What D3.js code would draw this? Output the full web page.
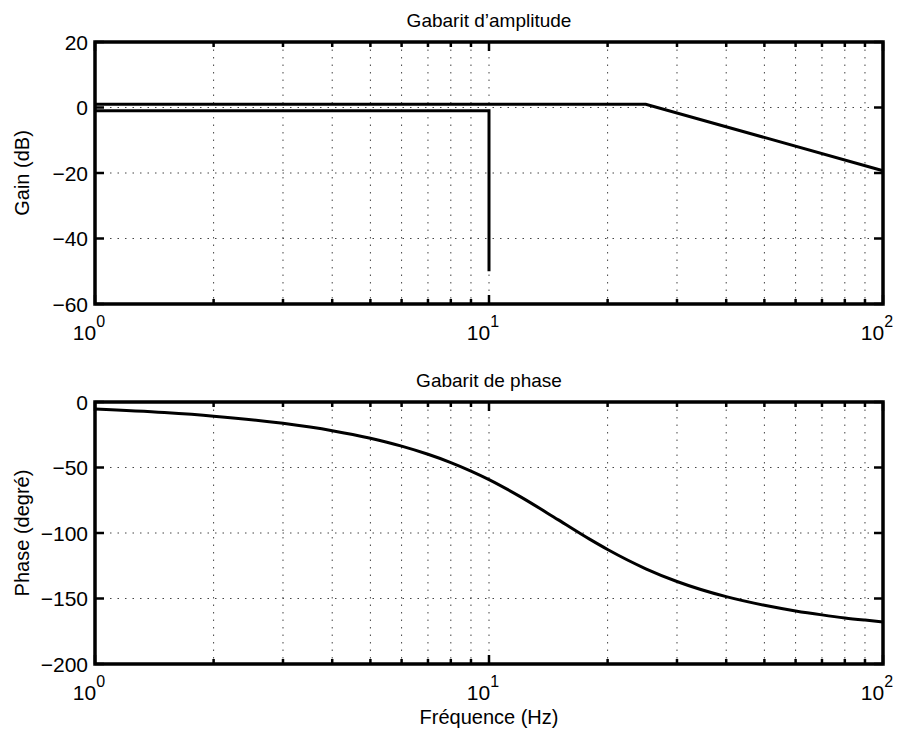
<!DOCTYPE html>
<html lang="fr">
<head>
<meta charset="UTF-8">
<title>Gabarit</title>
<script src="https://d3js.org/d3.v7.min.js"></script>
<style>
  body { margin: 0; background: #fff; }
  svg text { font-family: "Liberation Sans", Arial, sans-serif; fill: #000; }
</style>
</head>
<body>
<svg id="chart" width="903" height="732"></svg>
<script>
// amplitude template (upper and lower bounds)
var upperFreq = [1, 25, 100];
var upperGain = [1, 1, -19.3];
var lowerFreq = [1, 10, 10];
var lowerGain = [-1, -1, -50];

// phase template
var phaseFreq = [1, 1.5, 2, 3, 4, 5, 6, 7, 8, 9, 10, 12, 15, 18, 20, 25, 30, 40, 50, 60, 70, 80, 90, 100];
var phaseDeg  = [-5.4, -8.1, -10.8, -16.3, -21.9, -27.7, -33.7, -39.9, -46.2, -52.7, -59.2, -72.2, -90,
                 -104.7, -112.6, -127.3, -137, -148.6, -155.2, -159.5, -162.5, -164.8, -166.5, -167.9];

var decades = [0, 1, 2];
var gainTicks = [-60, -40, -20, 0, 20];
var phaseTicks = [-200, -150, -100, -50, 0];

var svg = d3.select("#chart");
var left = 95, right = 883;

var x = d3.scaleLog().domain([1, 100]).range([left, right]);

function fmt(v) { return v < 0 ? "\u2212" + Math.abs(v) : String(v); }

function panel(top, bottom, yDomain, yTicks, title, ylabel, series, curve) {
    var y = d3.scaleLinear().domain(yDomain).range([bottom, top]);
    var g = svg.append("g");

    // minor + major x positions for the log grid
    var xs = [];
    decades.slice(0, -1).forEach(function(d) {
        for (var k = 1; k < 10; k++) xs.push(k * Math.pow(10, d));
    });
    xs.push(100);

    // grid
    g.selectAll(".vg").data(xs.filter(function(v) { return v > 1 && v < 100; })).enter()
        .append("line")
        .attr("x1", function(d) { return x(d); }).attr("x2", function(d) { return x(d); })
        .attr("y1", top).attr("y2", bottom)
        .attr("stroke", "#444").attr("stroke-width", 1).attr("stroke-dasharray", "1.5,6");
    g.selectAll(".hg").data(yTicks.slice(1, -1)).enter()
        .append("line")
        .attr("x1", left).attr("x2", right)
        .attr("y1", function(d) { return y(d); }).attr("y2", function(d) { return y(d); })
        .attr("stroke", "#444").attr("stroke-width", 1).attr("stroke-dasharray", "1.5,6");

    // curves
    var line = d3.line().curve(curve)
        .x(function(d) { return x(d[0]); }).y(function(d) { return y(d[1]); });
    series.forEach(function(s) {
        g.append("path")
            .datum(s[0].map(function(f, i) { return [f, s[1][i]]; }))
            .attr("d", line)
            .attr("fill", "none").attr("stroke", "#000").attr("stroke-width", 3)
            .attr("stroke-linejoin", "miter");
    });

    // ticks inside (bottom/top, left/right)
    xs.forEach(function(v) {
        var major = decades.some(function(d) { return Math.abs(v - Math.pow(10, d)) < 1e-9; });
        var len = major ? 9 : 5;
        g.append("line").attr("x1", x(v)).attr("x2", x(v)).attr("y1", bottom).attr("y2", bottom - len)
            .attr("stroke", "#000").attr("stroke-width", 2.5);
        g.append("line").attr("x1", x(v)).attr("x2", x(v)).attr("y1", top).attr("y2", top + len)
            .attr("stroke", "#000").attr("stroke-width", 2.5);
    });
    yTicks.forEach(function(v) {
        g.append("line").attr("x1", left).attr("x2", left + 9).attr("y1", y(v)).attr("y2", y(v))
            .attr("stroke", "#000").attr("stroke-width", 2.5);
        g.append("line").attr("x1", right).attr("x2", right - 9).attr("y1", y(v)).attr("y2", y(v))
            .attr("stroke", "#000").attr("stroke-width", 2.5);
    });

    // frame
    g.append("rect").attr("x", left).attr("y", top)
        .attr("width", right - left).attr("height", bottom - top)
        .attr("fill", "none").attr("stroke", "#000").attr("stroke-width", 3.5);

    // y tick labels
    g.selectAll(".yl").data(yTicks).enter().append("text")
        .attr("x", left - 7).attr("y", function(d) { return y(d) + 7.5; })
        .attr("text-anchor", "end").attr("font-size", 21)
        .text(fmt);

    // x tick labels 10^n
    decades.forEach(function(d) {
        var t = g.append("text").attr("x", x(Math.pow(10, d)) - 6).attr("y", bottom + 36)
            .attr("text-anchor", "middle").attr("font-size", 21);
        t.append("tspan").text("10");
        t.append("tspan").attr("dy", -13).attr("font-size", 16).text(String(d));
    });

    // title
    g.append("text").attr("x", (left + right) / 2).attr("y", top - 15)
        .attr("text-anchor", "middle").attr("font-size", 19).text(title);

    // y label
    g.append("text")
        .attr("transform", "translate(29," + ((top + bottom) / 2) + ") rotate(-90)")
        .attr("text-anchor", "middle").attr("font-size", 20).text(ylabel);

    return y;
}

panel(42, 304, [-60, 20], gainTicks, "Gabarit d\u2019amplitude", "Gain (dB)",
      [[upperFreq, upperGain], [lowerFreq, lowerGain]], d3.curveLinear);
panel(402, 664, [-200, 0], phaseTicks, "Gabarit de phase", "Phase (degr\u00e9)",
      [[phaseFreq, phaseDeg]], d3.curveMonotoneX);

svg.append("text").attr("x", (left + right) / 2).attr("y", 724)
    .attr("text-anchor", "middle").attr("font-size", 20).text("Fr\u00e9quence (Hz)");
</script>
</body>
</html>
